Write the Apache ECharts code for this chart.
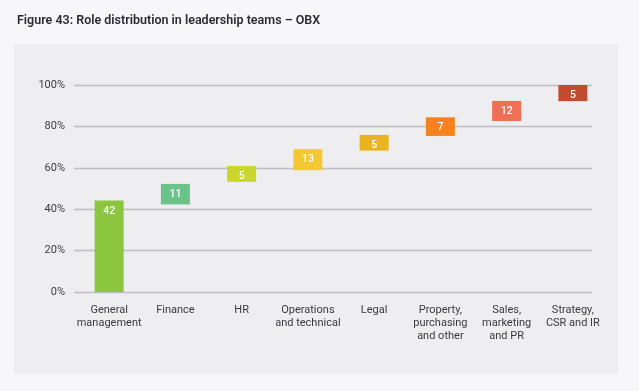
<!DOCTYPE html>
<html>
<head>
<meta charset="utf-8">
<script src="https://cdn.jsdelivr.net/npm/echarts@6/dist/echarts.min.js"></script>
<style>
html,body{margin:0;padding:0;background:#f7f7f9;}
#c{width:639px;height:391px;}
</style>
</head>
<body>
<div id="c"></div>
<script>
// Data
var categories = ['General\nmanagement', 'Finance', 'HR', 'Operations\nand technical', 'Legal', 'Property,\npurchasing\nand other', 'Sales,\nmarketing\nand PR', 'Strategy,\nCSR and IR'];
var labelValues = [42, 11, 5, 13, 5, 7, 12, 5];
var barBottom = [0, 42.3, 53.2, 58.8, 68.3, 75.4, 82.6, 92.2];
var barTop = [44.2, 52.2, 60.9, 69.0, 75.9, 84.4, 92.3, 100];
var barColors = ['#8cc63f', '#6cc38a', '#c9d62e', '#f3c933', '#e9b41f', '#f5821f', '#f26f57', '#c04b2f'];
var yTicks = [0, 20, 40, 60, 80, 100];

var heights = barTop.map(function (t, i) { return +(t - barBottom[i]).toFixed(1); });

var chart = echarts.init(document.getElementById('c'), null, {renderer: 'canvas'});
var font = 'Roboto, "Open Sans", sans-serif';
var yMin = yTicks[0], yMax = yTicks[yTicks.length - 1];
chart.setOption({
  backgroundColor: '#f7f7f9',
  animation: false,
  graphic: [
    {type: 'rect', shape: {x: 14, y: 44, width: 604, height: 330}, style: {fill: '#eeeef0'}, z: -10},
    {type: 'text', left: 17, top: 14, style: {text: 'Figure 43: Role distribution in leadership teams \u2013 OBX', fill: '#2b2b33', font: '600 12.5px ' + font}}
  ],
  grid: [
    {left: 74, right: 47, top: 85, bottom: 99},
    {left: 76, right: 33, top: 85, bottom: 99}
  ],
  xAxis: [
    {type: 'category', gridIndex: 0, data: categories, show: false},
    {
      type: 'category', gridIndex: 1,
      data: categories,
      axisLine: {show: false},
      axisTick: {show: false},
      axisLabel: {color: '#3a3a40', fontSize: 11, fontFamily: font, lineHeight: 13, margin: 12, interval: 0, verticalAlign: 'top'}
    }
  ],
  yAxis: [
    {
      type: 'value', gridIndex: 0,
      min: yMin, max: yMax, interval: 20,
      axisLine: {show: false},
      axisTick: {show: false},
      axisLabel: {color: '#3a3a40', fontSize: 11, fontFamily: font, margin: 9, formatter: '{value}%'},
      splitLine: {lineStyle: {color: '#bdbdc2', width: 1.3}}
    },
    {
      type: 'value', gridIndex: 1,
      min: yMin, max: yMax, interval: 20,
      show: false, splitLine: {show: false}
    }
  ],
  series: [
    {
      type: 'bar', stack: 'w', barWidth: 29, xAxisIndex: 1, yAxisIndex: 1,
      data: barBottom,
      itemStyle: {color: 'transparent'},
      emphasis: {disabled: true}
    },
    {
      type: 'bar', stack: 'w', barWidth: 29, xAxisIndex: 1, yAxisIndex: 1,
      data: heights.map(function (h, i) { return {value: h, itemStyle: {color: barColors[i]}}; }),
      label: {
        show: true, position: 'insideTop', distance: 5,
        color: '#ffffff', fontSize: 10.5, fontFamily: font, fontWeight: 500,
        formatter: function (p) { return String(labelValues[p.dataIndex]); }
      }
    }
  ]
});
</script>
</body>
</html>
